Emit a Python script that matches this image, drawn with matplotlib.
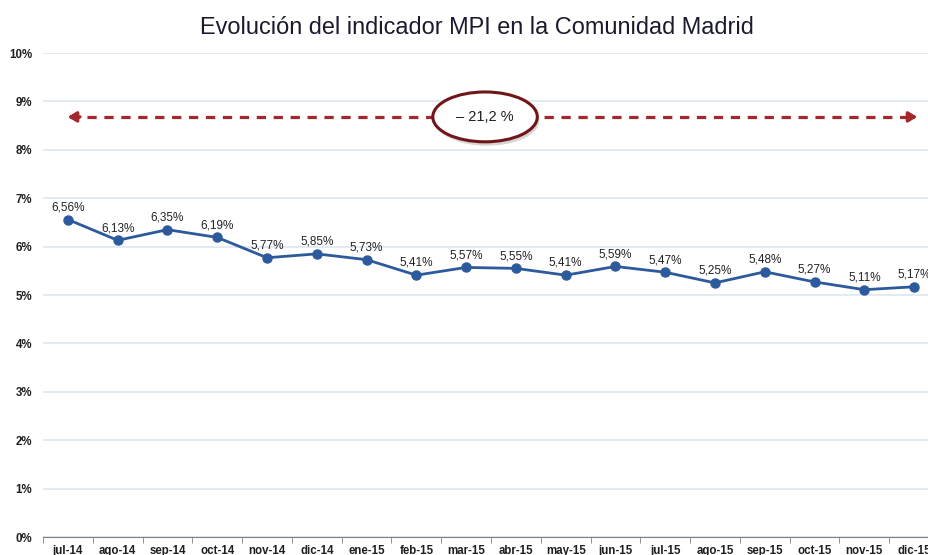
import matplotlib.pyplot as plt
from matplotlib.patches import Ellipse

months = ['jul-14', 'ago-14', 'sep-14', 'oct-14', 'nov-14', 'dic-14', 'ene-15', 'feb-15',
          'mar-15', 'abr-15', 'may-15', 'jun-15', 'jul-15', 'ago-15', 'sep-15', 'oct-15',
          'nov-15', 'dic-15']
mpi = [6.56, 6.13, 6.35, 6.19, 5.77, 5.85, 5.73, 5.41, 5.57, 5.55, 5.41, 5.59, 5.47,
       5.25, 5.48, 5.27, 5.11, 5.17]
change_label = '– 21,2 %'

plt.rcParams['font.family'] = ['Liberation Sans', 'DejaVu Sans']

fig = plt.figure(figsize=(9.29, 5.55), dpi=100)
ax = fig.add_axes([0.0463, 0.0324, 0.9645, 0.8721])

x = list(range(len(months)))
line_color = '#2C5A9C'
ax.plot(x, mpi, color=line_color, lw=2.0, marker='o', ms=6.5, zorder=3)
for xi, v in zip(x, mpi):
    ax.annotate(f'{v:.2f}%'.replace('.', ','), (xi, v), xytext=(0, 4.5),
                textcoords='offset points', ha='center', va='bottom',
                fontsize=8.5, color='#222222')

ax.set_xlim(-0.5, len(months) - 0.5)
ax.set_ylim(0, 10)
ax.set_yticks(range(0, 11))
ax.set_yticklabels([f'{i}%' for i in range(0, 11)])
ax.set_xticks(x)
ax.set_xticklabels(months)
ax.set_xticks([i - 0.5 for i in range(len(months) + 1)], minor=True)
ax.tick_params(axis='x', which='major', length=0, pad=6)
ax.tick_params(axis='x', which='minor', length=4, color='#808080')
ax.tick_params(axis='y', length=0, pad=8)
for lab in ax.get_xticklabels() + ax.get_yticklabels():
    lab.set_fontweight('bold')
    lab.set_fontsize(8.3)
    lab.set_color('#1F1F1F')

ax.grid(axis='y', color='#DDE6F0', lw=1.2)
ax.set_axisbelow(True)
for s in ['top', 'right', 'left']:
    ax.spines[s].set_visible(False)
ax.spines['bottom'].set_color('#808080')

# dashed double arrow with the overall change
red = '#A3272B'
y_arr = 8.68
ax.plot([0.05, 17.0], [y_arr, y_arr], color=red, lw=2.3, dashes=(2.9, 2.4), zorder=2)
ax.annotate('', xy=(-0.06, y_arr), xytext=(0.3, y_arr),
            arrowprops=dict(arrowstyle='-|>,head_length=0.5,head_width=0.3', color=red, lw=2.3))
ax.annotate('', xy=(17.12, y_arr), xytext=(16.8, y_arr),
            arrowprops=dict(arrowstyle='-|>,head_length=0.5,head_width=0.3', color=red, lw=2.3))
shadow = Ellipse((8.42, y_arr - 0.08), 2.1, 1.03, facecolor='#BBBBBB', edgecolor='none',
                 alpha=0.6, zorder=4)
ax.add_patch(shadow)
ell = Ellipse((8.38, y_arr), 2.1, 1.03, facecolor='white', edgecolor='#701618', lw=2.2, zorder=5)
ax.add_patch(ell)
ax.text(8.38, y_arr, change_label, ha='center', va='center', fontsize=10.5, color='#1F1F1F',
        zorder=6)

fig.text(0.513, 0.950, 'Evolución del indicador MPI en la Comunidad Madrid', ha='center',
         va='center', fontsize=16.9, color='#1A1A2E')

fig.savefig('out.png', dpi=100)
